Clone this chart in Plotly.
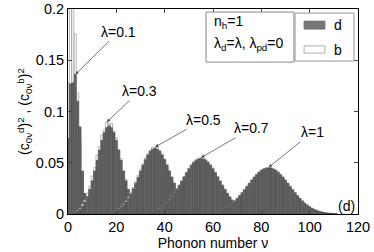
import plotly.graph_objects as go

# ---------------- data ----------------
lambdas = ["0.1", "0.3", "0.5", "0.7", "1"]

nu01 = list(range(0, 10))
d01 = [0.074, 0.127, 0.128, 0.136, 0.11, 0.085, 0.042, 0.02, 0.008, 0.003]
b01 = [0.128, 0.25, 0.24, 0.176, 0.118, 0.07, 0.04, 0.02, 0.008, 0.003]

nu03 = list(range(2, 33))
d03 = [0.0009, 0.0017, 0.0029, 0.0048, 0.0077, 0.0116, 0.017, 0.0239, 0.0323, 0.0419,
       0.0522, 0.0624, 0.0718, 0.0794, 0.0843, 0.086, 0.0843, 0.0794, 0.0718, 0.0624,
       0.0522, 0.0419, 0.0323, 0.0239, 0.017, 0.0116, 0.0077, 0.0048, 0.0029, 0.0017, 0.0009]
b03 = [0.0012, 0.002, 0.0036, 0.0058, 0.0095, 0.0135, 0.0205, 0.027, 0.037, 0.0455,
       0.0575, 0.066, 0.077, 0.082, 0.0895, 0.088, 0.0885, 0.081, 0.0745, 0.063,
       0.054, 0.042, 0.0335, 0.024, 0.0175, 0.0115, 0.008, 0.0048, 0.003, 0.0017, 0.0009]

nu05 = list(range(16, 57))
d05 = [0.0006, 0.0009, 0.0014, 0.0021, 0.0031, 0.0045, 0.0063, 0.0086, 0.0116, 0.0153,
       0.0196, 0.0245, 0.030, 0.0358, 0.0418, 0.0476, 0.053, 0.0575, 0.0611, 0.0632,
       0.064, 0.0632, 0.0611, 0.0575, 0.053, 0.0476, 0.0418, 0.0358, 0.030, 0.0245,
       0.0196, 0.0153, 0.0116, 0.0086, 0.0063, 0.0045, 0.0031, 0.0021, 0.0014, 0.0009, 0.0006]
b05 = [0.0007, 0.001, 0.0016, 0.0024, 0.0035, 0.005, 0.007, 0.0095, 0.0128, 0.0165,
       0.0212, 0.026, 0.0318, 0.0375, 0.0436, 0.049, 0.0548, 0.0588, 0.0625, 0.0648,
       0.0652, 0.0645, 0.062, 0.0585, 0.0538, 0.0482, 0.0424, 0.0362, 0.0303, 0.0248,
       0.0198, 0.0155, 0.0117, 0.0087, 0.0064, 0.0046, 0.0032, 0.0022, 0.0014, 0.0009, 0.0006]

nu07 = list(range(31, 80))
d07 = [0.0005, 0.0007, 0.001, 0.0015, 0.002, 0.0028, 0.0038, 0.005, 0.0066, 0.0085,
       0.0108, 0.0134, 0.0165, 0.020, 0.0238, 0.0278, 0.0319, 0.0361, 0.0402, 0.044,
       0.0474, 0.0502, 0.0523, 0.0536, 0.054, 0.0536, 0.0523, 0.0502, 0.0474, 0.044,
       0.0402, 0.0361, 0.0319, 0.0278, 0.0238, 0.020, 0.0165, 0.0134, 0.0108, 0.0085,
       0.0066, 0.005, 0.0038, 0.0028, 0.002, 0.0015, 0.001, 0.0007, 0.0005]
b07 = [0.0005, 0.0007, 0.001, 0.0015, 0.0021, 0.0029, 0.0039, 0.0052, 0.0068, 0.0088,
       0.0111, 0.0138, 0.0169, 0.0205, 0.0243, 0.0284, 0.0326, 0.0368, 0.041, 0.0448,
       0.0483, 0.0511, 0.0532, 0.0545, 0.0549, 0.0545, 0.0532, 0.0511, 0.0483, 0.0448,
       0.041, 0.0368, 0.0326, 0.0284, 0.0243, 0.0205, 0.0169, 0.0138, 0.0111, 0.0088,
       0.0068, 0.0052, 0.0039, 0.0029, 0.0021, 0.0015, 0.001, 0.0007, 0.0005]

nu10 = list(range(55, 112))
d10 = [0.0003, 0.0004, 0.0006, 0.0008, 0.0011, 0.0015, 0.002, 0.0026, 0.0034, 0.0044,
       0.0055, 0.007, 0.0086, 0.0105, 0.0127, 0.0151, 0.0178, 0.0206, 0.0236, 0.0267,
       0.0298, 0.0328, 0.0357, 0.0383, 0.0406, 0.0425, 0.0438, 0.0447, 0.045, 0.0447,
       0.0438, 0.0425, 0.0406, 0.0383, 0.0357, 0.0328, 0.0298, 0.0267, 0.0236, 0.0206,
       0.0178, 0.0151, 0.0127, 0.0105, 0.0086, 0.007, 0.0055, 0.0044, 0.0034, 0.0026,
       0.002, 0.0015, 0.0011, 0.0008, 0.0006, 0.0004, 0.0003]
b10 = [0.0003, 0.0004, 0.0006, 0.0008, 0.0011, 0.0015, 0.0021, 0.0027, 0.0035, 0.0045,
       0.0056, 0.0071, 0.0088, 0.0107, 0.0129, 0.0154, 0.0181, 0.021, 0.024, 0.0271,
       0.0302, 0.0333, 0.0362, 0.0388, 0.0411, 0.043, 0.0443, 0.0452, 0.0455, 0.0452,
       0.0443, 0.043, 0.0411, 0.0388, 0.0362, 0.0333, 0.0302, 0.0271, 0.024, 0.021,
       0.0181, 0.0154, 0.0129, 0.0107, 0.0088, 0.0071, 0.0056, 0.0045, 0.0035, 0.0027,
       0.0021, 0.0015, 0.0011, 0.0008, 0.0006, 0.0004, 0.0003]

x_ticks = [0, 20, 40, 60, 80, 100, 120]
y_ticks = [0, 0.05, 0.1, 0.15, 0.2]
y_tick_labels = ["0", "0.05", "0.1", "0.15", "0.2"]

series = [(nu01, d01, b01), (nu03, d03, b03), (nu05, d05, b05),
          (nu07, d07, b07), (nu10, d10, b10)]

# label positions (text centre, data coords)
label_pos = [(21.0, 0.178), (29.5, 0.120), (56.0, 0.092), (76.0, 0.0835), (101.0, 0.0796)]

FONT = "Liberation Sans, Arial, Helvetica, sans-serif"
D_FILL, D_LINE = "#666666", "#3a3a3a"
B_FILL, B_LINE = "#ffffff", "#9a9a9a"

fig = go.Figure()
for nu, d, b in series:
    fig.add_trace(go.Bar(x=nu, y=b, showlegend=False, width=0.85,
                         marker=dict(color=B_FILL, line=dict(color=B_LINE, width=0.7))))
    fig.add_trace(go.Bar(x=nu, y=d, showlegend=False, width=0.85,
                         marker=dict(color=D_FILL, line=dict(color=D_LINE, width=0.5))))

# arrows to peaks
for i, ((nu, d, b), lam, (tx, ty)) in enumerate(zip(series, lambdas, label_pos)):
    if i == 0:
        k = d.index(max(d)); hy = d[k]
    else:
        k = b.index(max(b)); hy = b[k]
    hx = nu[k]
    fig.add_annotation(x=hx, y=hy, xref="x", yref="y", ax=tx, ay=ty, axref="x", ayref="y",
                       text="λ=" + lam, showarrow=True, arrowhead=2, arrowsize=0.9,
                       arrowwidth=0.8, arrowcolor="#555", standoff=0,
                       font=dict(family=FONT, size=14, color="black"))

# info box
fig.add_shape(type="rect", xref="paper", yref="paper", x0=0.476, x1=0.779, y0=0.741, y1=0.985,
              line=dict(color="#888", width=1), fillcolor="white", layer="above")
fig.add_annotation(xref="paper", yref="paper", x=0.497, y=0.937, xanchor="left", yanchor="middle",
                   text="n<sub>h</sub>=1", showarrow=False, font=dict(family=FONT, size=14, color="black"))
fig.add_annotation(xref="paper", yref="paper", x=0.497, y=0.829, xanchor="left", yanchor="middle",
                   text="λ<sub>d</sub>=λ, λ<sub>pd</sub>=0", showarrow=False,
                   font=dict(family=FONT, size=14, color="black"))

# legend box
fig.add_shape(type="rect", xref="paper", yref="paper", x0=0.783, x1=0.986, y0=0.746, y1=0.980,
              line=dict(color="#999", width=1), fillcolor="white", layer="above")
fig.add_shape(type="rect", xref="paper", yref="paper", x0=0.814, x1=0.886, y0=0.902, y1=0.941,
              line=dict(color="#666", width=0.8), fillcolor="#777", layer="above")
fig.add_shape(type="rect", xref="paper", yref="paper", x0=0.814, x1=0.886, y0=0.785, y1=0.820,
              line=dict(color="#999", width=0.8), fillcolor="white", layer="above")
fig.add_annotation(xref="paper", yref="paper", x=0.910, y=0.922, xanchor="left", yanchor="middle",
                   text="d", showarrow=False, font=dict(family=FONT, size=14, color="black"))
fig.add_annotation(xref="paper", yref="paper", x=0.910, y=0.800, xanchor="left", yanchor="middle",
                   text="b", showarrow=False, font=dict(family=FONT, size=14, color="black"))

# panel tag
fig.add_annotation(xref="paper", yref="paper", x=0.959, y=0.039, xanchor="center", yanchor="middle",
                   text="(d)", showarrow=False, font=dict(family=FONT, size=14, color="black"))

fig.update_layout(
    width=374, height=252, autosize=False,
    margin=dict(l=68, r=16, t=9, b=38),
    paper_bgcolor="white", plot_bgcolor="white",
    barmode="overlay",
    font=dict(family=FONT, size=14, color="black"),
    xaxis=dict(range=[0, 120], tickvals=x_ticks, ticks="inside", ticklen=4, showline=True,
               linecolor="black", linewidth=1, mirror="ticks", showgrid=False, zeroline=False,
               tickfont=dict(size=14.5), automargin=False, ticklabeloverflow="allow",
               title=dict(text="Phonon number ν", standoff=0, font=dict(size=14))),
    yaxis=dict(range=[0, 0.2], tickvals=y_ticks, ticktext=y_tick_labels, ticks="inside", ticklen=4,
               showline=True, linecolor="black", linewidth=1, mirror="ticks", showgrid=False,
               zeroline=False, tickfont=dict(size=14.5), automargin=False, ticklabeloverflow="allow",
               title=dict(text="(c<sub>0ν</sub><sup>d</sup>)<sup>2</sup> , (c<sub>0ν</sub><sup>b</sup>)<sup>2</sup>",
                          standoff=2, font=dict(size=14))),
)

fig.write_html("out.html",
               config={"displayModeBar": False, "responsive": False},
               post_script="document.body.style.margin='0';document.body.style.padding='0';")
